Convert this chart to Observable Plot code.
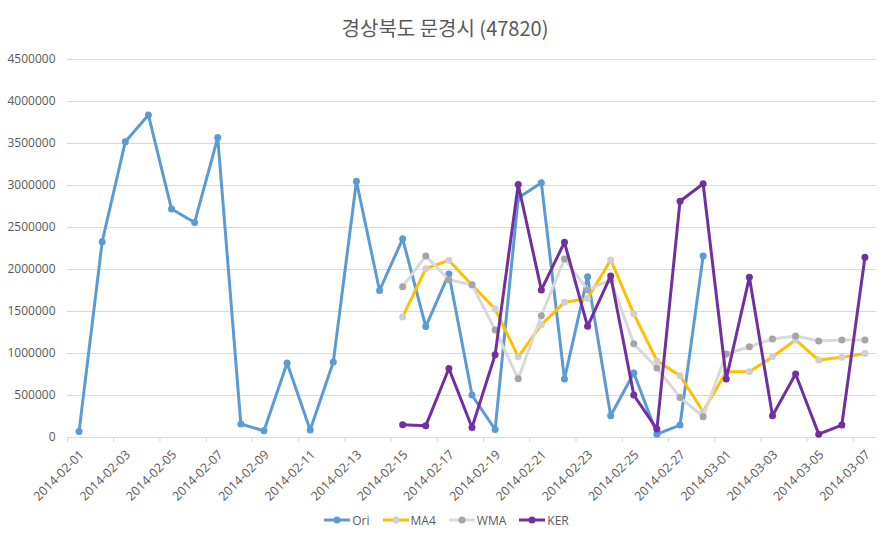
<!DOCTYPE html>
<html><head><meta charset="utf-8">
<script src="https://cdn.jsdelivr.net/npm/d3@7"></script>
<script src="https://cdn.jsdelivr.net/npm/@observablehq/plot@0.6"></script>
<style>
body{margin:0;background:#fff;font-family:"Open Sans",sans-serif;}
#title{height:46px;box-sizing:border-box;padding-top:16px;line-height:24px;text-align:center;font-family:"Noto Sans CJK KR",sans-serif;font-size:20px;color:#595959;}
#chart svg{display:block;}
#legend{display:flex;justify-content:center;align-items:center;gap:12px;height:36px;padding-top:0px;box-sizing:border-box;font-size:12px;color:#595959;margin-left:2px;}
#legend .item{display:flex;align-items:center;gap:1px;}
</style></head><body>
<div id="title">경상북도 문경시 (47820)</div>
<div id="chart"></div>
<div id="legend"></div>
<script>
const dates = ["2014-02-01","2014-02-02","2014-02-03","2014-02-04","2014-02-05","2014-02-06","2014-02-07","2014-02-08","2014-02-09","2014-02-10","2014-02-11","2014-02-12","2014-02-13","2014-02-14","2014-02-15","2014-02-16","2014-02-17","2014-02-18","2014-02-19","2014-02-20","2014-02-21","2014-02-22","2014-02-23","2014-02-24","2014-02-25","2014-02-26","2014-02-27","2014-02-28","2014-03-01","2014-03-02","2014-03-03","2014-03-04","2014-03-05","2014-03-06","2014-03-07"];
const yTicks = [0,500000,1000000,1500000,2000000,2500000,3000000,3500000,4000000,4500000];
const seriesNames = ["Ori","MA4","WMA","KER"];
// Ori: 2014-02-01 .. 2014-02-28
const ori = [70000,2330000,3520000,3840000,2720000,2560000,3570000,160000,80000,887000,90000,900000,3050000,1750000,2365000,1320000,1947000,505000,95000,2850000,3032000,696000,1915000,259000,767000,40000,148000,2162000];
// MA4, WMA, KER: 2014-02-15 .. 2014-03-07
const ma4 = [1435000,2010000,2110000,1816000,1530000,960000,1343000,1609000,1655000,2114000,1472000,914000,735000,310000,783000,783000,962000,1161000,922000,954000,1001000];
const wma = [1796000,2160000,1878000,1818000,1280000,700000,1449000,2126000,1757000,1875000,1115000,827000,477000,247000,994000,1081000,1173000,1208000,1149000,1161000,1161000];
const ker = [151000,139000,822000,119000,984000,3012000,1757000,2324000,1323000,1923000,505000,100000,2813000,3020000,696000,1907000,259000,755000,40000,148000,2145000];
const oriStart = "2014-02-01";
const fcStart = "2014-02-15";

const styles = {
  Ori: {line:"#5B9BD5", dot:"#5B9BD5"},
  MA4: {line:"#FFC000", dot:"#D0D0D0"},
  WMA: {line:"#D9D9D9", dot:"#A5A5A5"},
  KER: {line:"#7030A0", dot:"#7030A0"}
};

const rows = (arr, start) => { const s = dates.indexOf(start); return arr.map((v,k)=>({i:s+k, v})); };
const data = {Ori: rows(ori, oriStart), MA4: rows(ma4, fcStart), WMA: rows(wma, fcStart), KER: rows(ker, fcStart)};

const labelIdx = dates.map((d,i)=>i).filter(i=>i%2===0);
const boundaryTicks = labelIdx.map(i=>i-0.5);

const seriesMarks = seriesNames.flatMap(name => [
  Plot.line(data[name], {x:"i", y:"v", stroke: styles[name].line, strokeWidth:3, strokeLinejoin:"round", strokeLinecap:"round"}),
  Plot.dot(data[name], {x:"i", y:"v", r:3.5, fill: styles[name].dot, stroke:"none"})
]);

const chart = Plot.plot({
  width: 890, height: 456,
  marginLeft: 67, marginRight: 14, marginTop: 13, marginBottom: 65,
  style: {fontFamily:"'Open Sans', sans-serif", fontSize:"12px", color:"#595959", background:"#fff", overflow:"visible"},
  x: {type:"linear", domain:[-0.5, dates.length-0.5], label:null},
  y: {domain:[0,4500000], label:null},
  marks: [
    Plot.gridY(yTicks, {stroke:"#D9D9D9", strokeOpacity:1}),
    Plot.axisY(yTicks, {tickSize:0, tickPadding:12, tickFormat: d=>String(d), fill:"#595959"}),
    Plot.ruleY([0], {stroke:"#D9D9D9"}),
    Plot.axisX(boundaryTicks, {tickSize:5, stroke:"#D9D9D9", tickFormat: ()=>""}),
    Plot.axisX(labelIdx, {tickSize:0, tickPadding:15, dx:3, fontSize:12.5, tickFormat: i=>dates[i], tickRotate:-45, fill:"#595959"}),
    ...seriesMarks
  ]
});
document.getElementById("chart").appendChild(chart);

const legend = document.getElementById("legend");
for (const name of seriesNames) {
  const item = document.createElement("div");
  item.className = "item";
  item.innerHTML = `<svg width="28" height="10"><line x1="1" y1="5" x2="27" y2="5" stroke="${styles[name].line}" stroke-width="3"/><circle cx="14" cy="5" r="3.5" fill="${styles[name].dot}"/></svg><span>${name}</span>`;
  legend.appendChild(item);
}
</script>
</body></html>
